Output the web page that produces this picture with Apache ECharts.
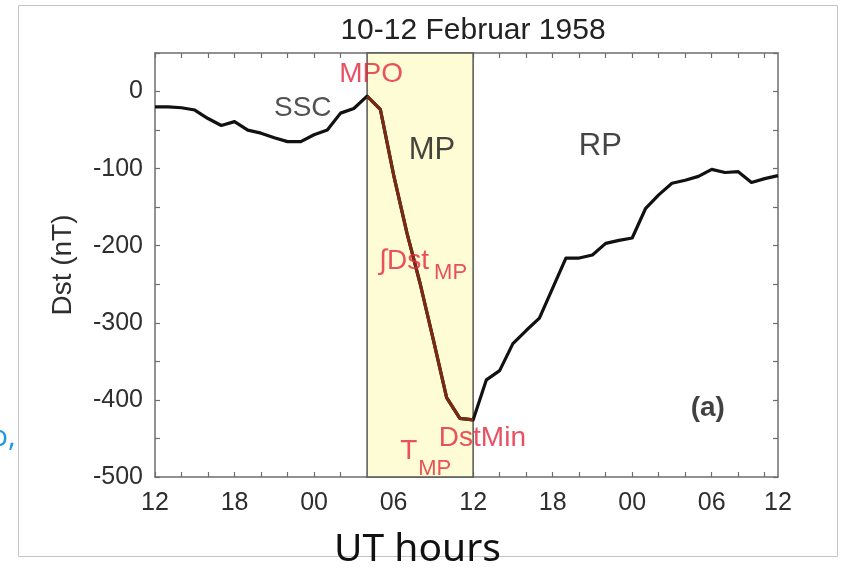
<!DOCTYPE html>
<html>
<head>
<meta charset="utf-8">
<script src="https://cdn.jsdelivr.net/npm/echarts@6/dist/echarts.min.js"></script>
<style>
  html, body { margin: 0; padding: 0; background: #fff; }
  #chart { width: 842px; height: 571px; }
</style>
</head>
<body>
<div id="chart"></div>
<script>
// Hourly Dst index, 12 UT 10 Feb 1958 through 11 UT 12 Feb 1958
const hours = [
  0, 1, 2, 3, 4, 5, 6, 7, 8, 9,
  10, 11, 12, 13, 14, 15, 16, 17, 18, 19,
  20, 21, 22, 23, 24, 25, 26, 27, 28, 29,
  30, 31, 32, 33, 34, 35, 36, 37, 38, 39,
  40, 41, 42, 43, 44, 45, 46, 47
];
const dstValues = [
  -20, -20, -21, -24, -35, -44, -39, -50, -54, -60,
  -65, -65, -56, -50, -28, -22, -6, -23, -108, -183,
  -249, -322, -397, -424, -426, -374, -362, -327, -310, -294,
  -255, -216, -216, -212, -197, -193, -190, -152, -134, -119,
  -115, -110, -101, -105, -104, -118, -113, -109
];

// Main phase window (MPO -> Dst minimum), in hours from start
const mainPhaseStart = 16;
const mainPhaseEnd = 24;

// Axis ticks and labels
const xTickHours = [0, 2, 4, 6, 8, 10, 12, 14, 16, 18, 20, 22, 24, 26, 28, 30, 32, 34, 36, 38, 40, 42, 44, 46];
const xLabelHours = [0, 6, 12, 18, 24, 30, 36, 42, 47];
const xTickLabels = ['12', '18', '00', '06', '12', '18', '00', '06', '12'];
const yMin = -500, yMax = 50, yStep = 50;

// Text annotations: [hour, Dst, text, style]
const annotations = [
  [11.15, -22, 'SSC', 'dark'],
  [16.3, 22, 'MPO', 'red'],
  [20.9, -76, 'MP', 'phase'],
  [33.6, -71, 'RP', 'phase'],
  [18.8, -220, '∫Dst', 'red'],
  [22.3, -235, 'MP', 'redSub'],
  [24.7, -450, 'DstMin', 'red'],
  [19.15, -467, 'T', 'red'],
  [21.1, -490, 'MP', 'redSub'],
  [41.7, -411, '(a)', 'bold']
];

const fontMain = 'Liberation Sans, Arial, Helvetica, sans-serif';
const frameColor = '#6e6e6e';
const textColor = '#2e2e2e';
const red = '#e3263c';

const allPoints = hours.map((h, i) => [h, dstValues[i]]);
const mainPhasePoints = hours.map((h, i) =>
  (h >= mainPhaseStart && h <= mainPhaseEnd) ? [h, dstValues[i]] : [h, null]);

const labelStyles = {
  dark:   { color: '#262626', fontSize: 28 },
  red:    { color: red, fontSize: 28 },
  redSub: { color: red, fontSize: 22 },
  phase:  { color: '#151515', fontSize: 31 },
  bold:   { color: '#111111', fontSize: 28, fontWeight: 'bold' }
};

const chart = echarts.init(document.getElementById('chart'), null, { renderer: 'canvas' });

chart.setOption({
  backgroundColor: '#ffffff',
  animation: false,
  title: {
    text: '10-12 Februar 1958',
    left: 468,
    top: 11,
    textAlign: 'center',
    textStyle: { fontFamily: fontMain, fontSize: 30, fontWeight: 'normal', color: '#222222' }
  },
  grid: { left: 155, right: 64, top: 53, bottom: 94 },
  xAxis: [
    {
      type: 'value', position: 'bottom', min: 0, max: 47,
      axisLine: { show: true, onZero: false, lineStyle: { color: frameColor, width: 1.5 } },
      axisTick: { show: true, inside: true, length: 5, customValues: xTickHours, lineStyle: { color: frameColor, width: 1.2 } },
      axisLabel: {
        show: true, margin: 14, customValues: xLabelHours,
        fontFamily: fontMain, fontSize: 25, color: textColor,
        formatter: v => { const i = xLabelHours.indexOf(v); return i >= 0 ? xTickLabels[i] : ''; }
      },
      splitLine: { show: false }
    },
    {
      type: 'value', position: 'top', min: 0, max: 47,
      axisLine: { show: true, onZero: false, lineStyle: { color: frameColor, width: 1.5 } },
      axisTick: { show: true, inside: true, length: 5, customValues: xTickHours, lineStyle: { color: frameColor, width: 1.2 } },
      axisLabel: { show: false },
      splitLine: { show: false }
    }
  ],
  yAxis: [
    {
      type: 'value', position: 'left', min: yMin, max: yMax, interval: yStep,
      name: 'Dst (nT)', nameLocation: 'middle', nameGap: 78,
      nameTextStyle: { fontFamily: fontMain, fontSize: 28, color: textColor },
      axisLine: { show: true, onZero: false, lineStyle: { color: frameColor, width: 1.5 } },
      axisTick: { show: true, inside: true, length: 5, lineStyle: { color: frameColor, width: 1.2 } },
      axisLabel: {
        margin: 12, fontFamily: fontMain, fontSize: 25, color: textColor,
        formatter: v => (v % 100 === 0 ? String(v) : '')
      },
      splitLine: { show: false }
    },
    {
      type: 'value', position: 'right', min: yMin, max: yMax, interval: yStep,
      axisLine: { show: true, onZero: false, lineStyle: { color: frameColor, width: 1.5 } },
      axisTick: { show: true, inside: true, length: 5, lineStyle: { color: frameColor, width: 1.2 } },
      axisLabel: { show: false },
      splitLine: { show: false }
    }
  ],
  series: [
    {
      name: 'Dst',
      type: 'line',
      data: allPoints,
      showSymbol: false,
      symbol: 'none',
      lineStyle: { color: '#111111', width: 3.2, join: 'round' },
      z: 3,
      markArea: {
        silent: true,
        itemStyle: { color: '#fdfcd4', borderColor: '#555555', borderWidth: 1.5 },
        data: [[{ xAxis: mainPhaseStart }, { xAxis: mainPhaseEnd }]]
      }
    },
    {
      name: 'Main phase',
      type: 'line',
      data: mainPhasePoints,
      showSymbol: false,
      symbol: 'none',
      connectNulls: false,
      lineStyle: { color: '#7a2a12', width: 3.2, join: 'round' },
      z: 4
    },
    {
      name: 'annotations',
      type: 'scatter',
      silent: true,
      symbolSize: 0,
      z: 6,
      data: annotations.map(a => ({
        value: [a[0], a[1]],
        label: Object.assign({
          show: true, position: 'inside', formatter: a[2],
          fontFamily: fontMain, align: 'center', verticalAlign: 'middle'
        }, labelStyles[a[3]])
      }))
    }
  ],
  graphic: [
    {
      type: 'rect', silent: true, z: -1,
      shape: { x: 18.5, y: 5.5, width: 819, height: 551 },
      style: { fill: 'none', stroke: '#c4c4c4', lineWidth: 1 }
    },
    {
      type: 'text', silent: true,
      left: 334, top: 530,
      style: { text: 'UT hours', font: '39px "Noto Sans", "Open Sans", sans-serif', fill: '#111111' }
    },
    {
      type: 'text', silent: true,
      left: -10, top: 422,
      style: { text: 'o,', font: '30px "Open Sans", sans-serif', fill: '#1d9be2' }
    }
  ]
});
</script>
</body>
</html>
